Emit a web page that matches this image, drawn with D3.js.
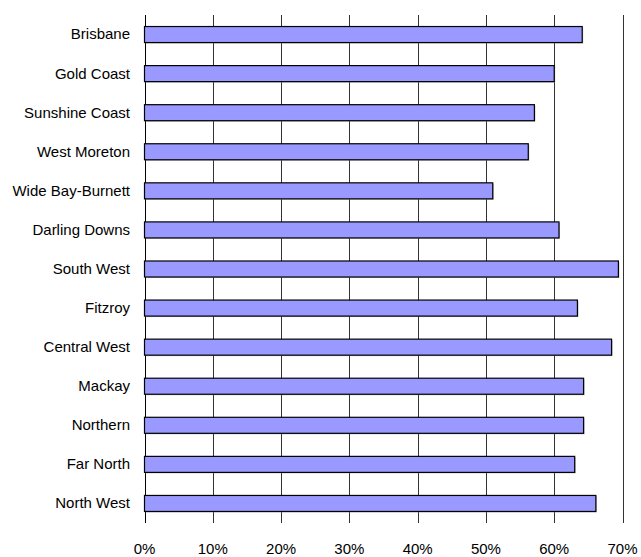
<!DOCTYPE html>
<html><head><meta charset="utf-8">
<script src="https://cdn.jsdelivr.net/npm/d3@7"></script>
<style>body{margin:0;background:#fff}svg{display:block}text{font-family:"Liberation Sans",Arial,sans-serif;font-size:15px;fill:#000}</style>
</head><body>
<script>
const categories = ["Brisbane","Gold Coast","Sunshine Coast","West Moreton","Wide Bay-Burnett","Darling Downs","South West","Fitzroy","Central West","Mackay","Northern","Far North","North West"];
const values = [64.1,60.0,57.1,56.2,51.0,60.7,69.4,63.4,68.4,64.3,64.3,63.0,66.1];
const tickValues = [0,10,20,30,40,50,60,70];

const W=641,H=557;
const svg=d3.select("body").append("svg").attr("width",W).attr("height",H);
const x=d3.scaleLinear().domain([0,70]).range([144.5,622.5]);
const y=d3.scaleBand().domain(categories).range([15,523]).paddingInner(0.59).paddingOuter(0.295);

// gridlines
svg.append("g").selectAll("line").data(tickValues).join("line")
  .attr("x1",d=>Math.round(x(d))+0.5).attr("x2",d=>Math.round(x(d))+0.5)
  .attr("y1",15).attr("y2",523)
  .attr("stroke",(d)=>d===0?"#000":"#333").attr("stroke-width",1);

// shadows
svg.append("g").selectAll("rect").data(categories).join("rect")
  .attr("x",x(0)+1).attr("y",d=>y(d)+1)
  .attr("width",(d,i)=>x(values[i])-x(0)).attr("height",y.bandwidth())
  .attr("fill","#999").attr("opacity",0.6);
// bars
svg.append("g").selectAll("rect").data(categories).join("rect")
  .attr("x",x(0)).attr("y",d=>y(d))
  .attr("width",(d,i)=>x(values[i])-x(0)).attr("height",y.bandwidth())
  .attr("fill","#9999FF").attr("stroke","#000").attr("stroke-width",1.2);

// category labels
svg.append("g").selectAll("text").data(categories).join("text")
  .attr("x",130).attr("y",d=>y(d)+y.bandwidth()/2).attr("dy","0.33em")
  .attr("text-anchor","end").text(d=>d);

// x tick labels
svg.append("g").selectAll("text").data(tickValues).join("text")
  .attr("x",d=>x(d)).attr("y",554).attr("text-anchor","middle")
  .text(d=>d+"%");
</script>
</body></html>
